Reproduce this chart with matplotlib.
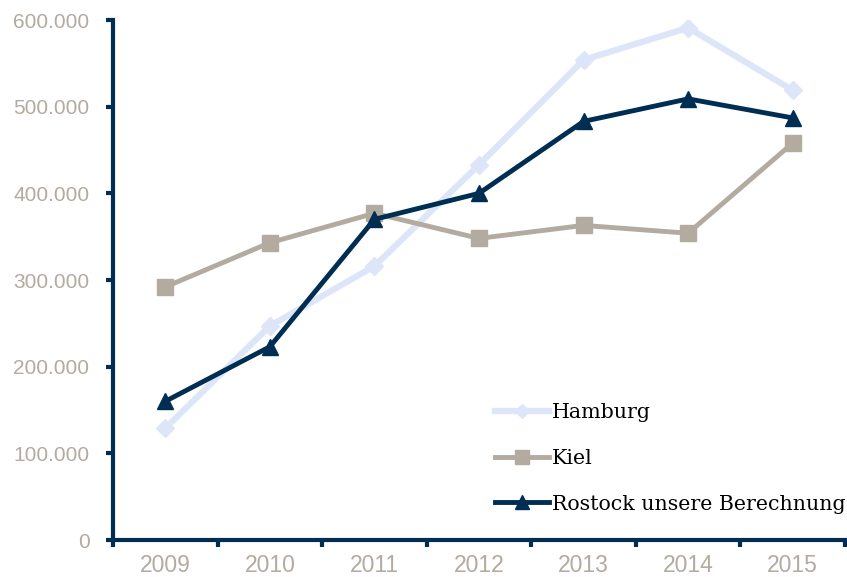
import matplotlib.pyplot as plt
from matplotlib.ticker import FuncFormatter, FixedLocator

years = ['2009', '2010', '2011', '2012', '2013', '2014', '2015']
hamburg = [129000, 247000, 316000, 433000, 554000, 591000, 519000]
kiel = [292000, 343000, 377000, 348000, 363000, 354000, 458000]
rostock = [160000, 223000, 370000, 400000, 483000, 509000, 487000]

navy = '#002d52'
grey = '#b3aaa0'
light = '#dce6f8'

fig = plt.figure(figsize=(8.47, 5.77), dpi=100)
ax = fig.add_axes([113 / 847, 37 / 577, 732 / 847, 520 / 577])

x = list(range(len(years)))
ax.plot(x, hamburg, color=light, lw=4.5, marker='D', ms=9, label='Hamburg')
ax.plot(x, kiel, color=grey, lw=3.5, marker='s', ms=12, label='Kiel')
ax.plot(x, rostock, color=navy, lw=3.5, marker='^', ms=12, label='Rostock unsere Berechnung')

ax.set_xlim(-0.5, len(years) - 0.5)
ax.set_ylim(0, 600000)
ax.set_yticks(range(0, 600001, 100000))
ax.yaxis.set_major_formatter(FuncFormatter(lambda v, p: f'{int(v):,}'.replace(',', '.')))
ax.set_xticks(x)
ax.set_xticklabels(years)
ax.xaxis.set_minor_locator(FixedLocator([i - 0.5 for i in range(len(years) + 1)]))

for s in ['top', 'right']:
    ax.spines[s].set_visible(False)
for s in ['left', 'bottom']:
    ax.spines[s].set_color(navy)
    ax.spines[s].set_linewidth(3)

ax.tick_params(axis='y', colors=navy, labelcolor=grey, length=5, width=3,
               pad=12, labelsize=15)
ax.tick_params(axis='x', which='major', length=0, pad=10, labelcolor=grey, labelsize=16.5)
ax.tick_params(axis='x', which='minor', colors=navy, length=5, width=3)
for lbl in ax.get_xticklabels() + ax.get_yticklabels():
    lbl.set_family('Liberation Sans')

leg = ax.legend(loc='lower right', bbox_to_anchor=(1.012, 0.035), frameon=False,
                prop={'family': 'DejaVu Serif', 'size': 14.8},
                handlelength=2.6, handletextpad=0.15, labelspacing=1.3,
                borderaxespad=0, markerscale=0.8)

fig.savefig('out.png', dpi=100)
